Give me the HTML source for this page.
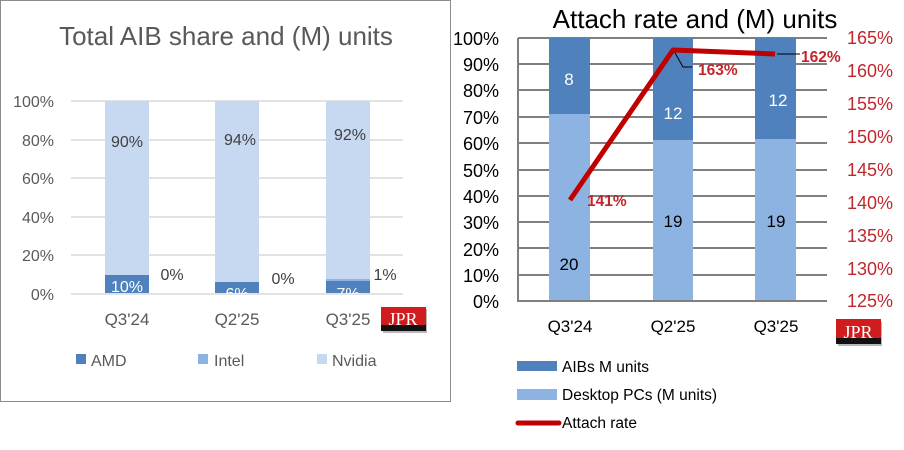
<!DOCTYPE html>
<html><head><meta charset="utf-8"><style>
html,body{margin:0;padding:0;background:#fff;width:904px;height:450px;overflow:hidden}
svg{display:block;font-family:"Liberation Sans",sans-serif}
</style></head><body>
<svg width="904" height="450" viewBox="0 0 904 450">
<defs><clipPath id="pl"><rect x="60" y="90" width="360" height="204"/></clipPath></defs>
<rect x="0.5" y="0.5" width="450" height="401" fill="#fff" stroke="#8c8c8c" stroke-width="1"/>
<text x="226" y="45" font-size="26" fill="#595959" text-anchor="middle">Total AIB share and (M) units</text>
<g stroke="#d9d9d9" stroke-width="1.5">
<line x1="71" x2="403" y1="101" y2="101"/><line x1="71" x2="403" y1="140" y2="140"/>
<line x1="71" x2="403" y1="178" y2="178"/><line x1="71" x2="403" y1="217" y2="217"/>
<line x1="71" x2="403" y1="255" y2="255"/>
</g>
<g font-size="16" fill="#595959" text-anchor="end">
<text x="54" y="107">100%</text><text x="54" y="146">80%</text><text x="54" y="184">60%</text>
<text x="54" y="223">40%</text><text x="54" y="261">20%</text><text x="54" y="300">0%</text>
</g>
<g fill="#c6d9f0">
<rect x="105" y="101" width="44" height="192"/><rect x="215" y="101" width="44" height="192"/><rect x="326" y="101" width="44" height="192"/>
</g>
<g fill="#4f81bd">
<rect x="105" y="275" width="44" height="18"/><rect x="215" y="282" width="44" height="11"/><rect x="326" y="281" width="44" height="12"/>
</g>
<rect x="326" y="279" width="44" height="2" fill="#8db3e2"/>
<line x1="71" x2="403" y1="294" y2="294" stroke="#d9d9d9" stroke-width="1.5"/>
<g font-size="16" fill="#404040" text-anchor="middle">
<text x="127" y="147">90%</text><text x="240" y="145">94%</text><text x="350" y="140">92%</text>
<text x="172" y="280">0%</text><text x="283" y="284">0%</text><text x="385" y="280">1%</text>
</g>
<g font-size="16" fill="#fff" text-anchor="middle" clip-path="url(#pl)">
<text x="127" y="292">10%</text><text x="237" y="299">6%</text><text x="348" y="299">7%</text>
</g>
<g font-size="17" fill="#595959" text-anchor="middle">
<text x="127" y="325">Q3'24</text><text x="237" y="325">Q2'25</text><text x="348" y="325">Q3'25</text>
</g>
<g>
<rect x="383" y="309" width="44" height="24" fill="#333" opacity="0.35"/>
<rect x="381" y="307" width="45" height="24" fill="#d01c1f"/>
<rect x="381" y="325" width="45" height="6" fill="#111"/>
<text x="403" y="325" font-family="Liberation Serif" font-size="18" fill="#fff" text-anchor="middle">JPR</text>
</g>
<rect x="76" y="354" width="10" height="10" fill="#4f81bd"/>
<text x="91" y="366" font-size="16" fill="#595959">AMD</text>
<rect x="198" y="354" width="10" height="10" fill="#8db3e2"/>
<text x="214" y="366" font-size="16" fill="#595959">Intel</text>
<rect x="317" y="354" width="10" height="10" fill="#c6d9f0"/>
<text x="332" y="366" font-size="16" fill="#595959">Nvidia</text>

<text x="695" y="28" font-size="26" fill="#000" text-anchor="middle">Attach rate and (M) units</text>
<g stroke="#7f7f7f" stroke-width="2">
<line x1="518" x2="827" y1="38" y2="38"/><line x1="518" x2="827" y1="64" y2="64"/>
<line x1="518" x2="827" y1="90" y2="90"/><line x1="518" x2="827" y1="117" y2="117"/>
<line x1="518" x2="827" y1="143" y2="143"/><line x1="518" x2="827" y1="170" y2="170"/>
<line x1="518" x2="827" y1="196" y2="196"/><line x1="518" x2="827" y1="222" y2="222"/>
<line x1="518" x2="827" y1="248" y2="248"/><line x1="518" x2="827" y1="275" y2="275"/>
</g>
<g fill="#8db3e2">
<rect x="549" y="114" width="41" height="187"/><rect x="653" y="140" width="40" height="161"/><rect x="755" y="139" width="41" height="162"/>
</g>
<g fill="#4f81bd">
<rect x="549" y="38" width="41" height="76"/><rect x="653" y="38" width="40" height="102"/><rect x="755" y="38" width="41" height="101"/>
</g>
<polyline points="518,38 518,301 827,301" fill="none" stroke="#7f7f7f" stroke-width="2"/>
<g font-size="18" fill="#000" text-anchor="end">
<text x="499" y="45">100%</text><text x="499" y="71">90%</text><text x="499" y="97">80%</text>
<text x="499" y="124">70%</text><text x="499" y="150">60%</text><text x="499" y="177">50%</text>
<text x="499" y="203">40%</text><text x="499" y="229">30%</text><text x="499" y="256">20%</text>
<text x="499" y="282">10%</text><text x="499" y="308">0%</text>
</g>
<g font-size="18" fill="#c0272d" text-anchor="end">
<text x="893" y="44">165%</text><text x="893" y="77">160%</text><text x="893" y="110">155%</text>
<text x="893" y="143">150%</text><text x="893" y="176">145%</text><text x="893" y="209">140%</text>
<text x="893" y="242">135%</text><text x="893" y="275">130%</text><text x="893" y="307">125%</text>
</g>
<g font-size="17" text-anchor="middle">
<text x="569" y="85" fill="#fff">8</text>
<text x="673" y="119" fill="#fff">12</text><text x="778" y="106" fill="#fff">12</text>
<text x="569" y="270" fill="#000">20</text><text x="673" y="227" fill="#000">19</text><text x="776" y="227" fill="#000">19</text>
</g>
<polyline points="674,51 683,67 692,67" fill="none" stroke="#000" stroke-width="1"/>
<line x1="777" y1="54" x2="800" y2="54" stroke="#000" stroke-width="1"/>
<polyline points="570,200 673,50 775,54" fill="none" stroke="#c00000" stroke-width="5" stroke-linejoin="round"/>
<g font-size="15.5" font-weight="bold" fill="#c0272d">
<text x="587" y="206">141%</text><text x="698" y="75">163%</text><text x="801" y="62">162%</text>
</g>
<g font-size="17" fill="#000" text-anchor="middle">
<text x="570" y="332">Q3'24</text><text x="673" y="332">Q2'25</text><text x="776" y="332">Q3'25</text>
</g>
<g>
<rect x="838" y="322" width="44" height="24" fill="#333" opacity="0.35"/>
<rect x="836" y="319" width="45" height="25" fill="#d01c1f"/>
<rect x="836" y="338" width="45" height="6" fill="#111"/>
<text x="858" y="338" font-family="Liberation Serif" font-size="18" fill="#fff" text-anchor="middle">JPR</text>
</g>
<rect x="517" y="361" width="40" height="10" fill="#4f81bd"/>
<text x="562" y="372" font-size="15.5" fill="#000">AIBs M units</text>
<rect x="517" y="389" width="40" height="11" fill="#8db3e2"/>
<text x="562" y="400" font-size="15.5" fill="#000">Desktop PCs (M units)</text>
<line x1="518" y1="423" x2="559" y2="423" stroke="#c00000" stroke-width="5" stroke-linecap="round"/>
<text x="562" y="428" font-size="15.5" fill="#000">Attach rate</text>
</svg>
</body></html>
